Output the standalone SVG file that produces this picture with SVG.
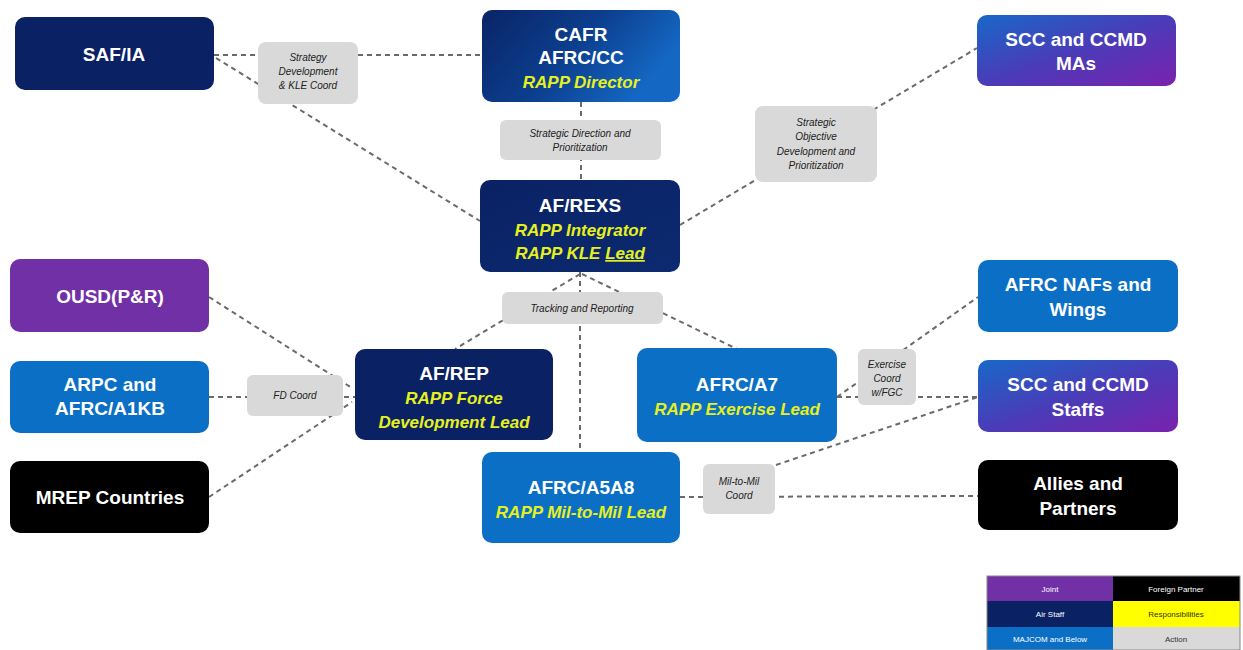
<svg xmlns="http://www.w3.org/2000/svg" width="1243" height="650" viewBox="0 0 1243 650">
<defs>
<linearGradient id="gCafr" x1="0" y1="0" x2="1" y2="0.4">
<stop offset="0" stop-color="#0a2466"/><stop offset="0.55" stop-color="#0c3f8f"/><stop offset="1" stop-color="#1468c4"/>
</linearGradient>
<linearGradient id="gScc" x1="0" y1="0" x2="1" y2="1">
<stop offset="0" stop-color="#1868c8"/><stop offset="0.5" stop-color="#4a3cb8"/><stop offset="1" stop-color="#7a22ae"/>
</linearGradient>
<linearGradient id="gRexs" x1="0" y1="0" x2="1" y2="1">
<stop offset="0" stop-color="#0a2264"/><stop offset="1" stop-color="#0c2a70"/>
</linearGradient>
</defs>
<style>
.conn{fill:none;stroke:#6a6a6a;stroke-width:2;stroke-dasharray:5 4}
.node text{font-family:"Liberation Sans",Arial,sans-serif;font-weight:bold;text-anchor:middle}
.t{fill:#ffffff;font-size:19px}
.y{fill:#e6f01e;font-size:17px;font-style:italic}
.lbl rect{fill:#d9d9d9}
.lbl text{font-family:"Liberation Sans",Arial,sans-serif;font-style:italic;font-size:10px;fill:#222;text-anchor:middle}
.navy{fill:#0a2264}
.blue{fill:#0b6fc6}
.purple{fill:#7230a6}
.black{fill:#000000}
.leg text{font-family:"Liberation Sans",Arial,sans-serif;font-size:8px;text-anchor:middle}
</style>
<rect width="1243" height="650" fill="#ffffff"/>
<g id="connectors">
<line class="conn" x1="214" y1="55" x2="482" y2="55"/>
<line class="conn" x1="216" y1="58" x2="480" y2="221"/>
<line class="conn" x1="581" y1="102" x2="581" y2="180"/>
<line class="conn" x1="680" y1="225" x2="977" y2="48"/>
<line class="conn" x1="580" y1="272" x2="580" y2="452"/>
<line class="conn" x1="580" y1="274" x2="455" y2="349"/>
<line class="conn" x1="582" y1="274" x2="737" y2="349"/>
<line class="conn" x1="209" y1="297" x2="352" y2="388"/>
<line class="conn" x1="209" y1="397" x2="355" y2="397"/>
<line class="conn" x1="209" y1="497" x2="352" y2="402"/>
<line class="conn" x1="837" y1="397" x2="978" y2="297"/>
<line class="conn" x1="837" y1="397" x2="978" y2="397"/>
<line class="conn" x1="776" y1="465" x2="978" y2="397"/>
<line class="conn" x1="680" y1="497" x2="978" y2="496"/>
</g>
<g id="lbl-strategy" class="lbl"><rect x="258" y="42" width="100" height="62" rx="8"/><text x="308" y="61">Strategy</text><text x="308" y="75">Development</text><text x="308" y="89">&amp; KLE Coord</text></g>
<g id="lbl-direction" class="lbl"><rect x="500" y="120" width="161" height="40" rx="6"/><text x="580" y="137">Strategic Direction and</text><text x="580" y="151">Prioritization</text></g>
<g id="lbl-objective" class="lbl"><rect x="755" y="106" width="122" height="76" rx="8"/><text x="816" y="126">Strategic</text><text x="816" y="140">Objective</text><text x="816" y="155">Development and</text><text x="816" y="169">Prioritization</text></g>
<g id="lbl-tracking" class="lbl"><rect x="502" y="292" width="161" height="32" rx="6"/><text x="582" y="312">Tracking and Reporting</text></g>
<g id="lbl-fd" class="lbl"><rect x="247" y="375" width="96" height="41" rx="6"/><text x="295" y="399">FD Coord</text></g>
<g id="lbl-exercise" class="lbl"><rect x="858" y="349" width="58" height="56" rx="6"/><text x="887" y="368">Exercise</text><text x="887" y="382">Coord</text><text x="887" y="396">w/FGC</text></g>
<g id="lbl-miltomil" class="lbl"><rect x="703" y="464" width="72" height="50" rx="6"/><text x="739" y="485">Mil-to-Mil</text><text x="739" y="499">Coord</text></g>

<g id="n-safia" class="node"><rect class="navy" x="15" y="17" width="199" height="73" rx="10"/><text class="t" x="114" y="61">SAF/IA</text></g>
<g id="n-cafr" class="node"><rect fill="url(#gCafr)" x="482" y="10" width="198" height="92" rx="10"/><text class="t" x="581" y="41">CAFR</text><text class="t" x="581" y="64">AFRC/CC</text><text class="y" x="581" y="88">RAPP Director</text></g>
<g id="n-sccma" class="node"><rect fill="url(#gScc)" x="977" y="15" width="199" height="71" rx="10"/><text class="t" x="1076" y="46">SCC and CCMD</text><text class="t" x="1076" y="70">MAs</text></g>
<g id="n-rexs" class="node"><rect fill="url(#gRexs)" x="480" y="180" width="200" height="92" rx="10"/><text class="t" x="580" y="212">AF/REXS</text><text class="y" x="580" y="236">RAPP Integrator</text><text class="y" x="580" y="259">RAPP KLE <tspan text-decoration="underline">Lead</tspan></text></g>
<g id="n-ousd" class="node"><rect class="purple" x="10" y="259" width="199" height="73" rx="10"/><text class="t" x="110" y="303">OUSD(P&amp;R)</text></g>
<g id="n-arpc" class="node"><rect class="blue" x="10" y="361" width="199" height="72" rx="10"/><text class="t" x="110" y="391">ARPC and</text><text class="t" x="110" y="415">AFRC/A1KB</text></g>
<g id="n-mrep" class="node"><rect class="black" x="10" y="461" width="199" height="72" rx="10"/><text class="t" x="110" y="504">MREP Countries</text></g>
<g id="n-rep" class="node"><rect class="navy" x="355" y="349" width="198" height="91" rx="10"/><text class="t" x="454" y="380">AF/REP</text><text class="y" x="454" y="404">RAPP Force</text><text class="y" x="454" y="428">Development Lead</text></g>
<g id="n-a7" class="node"><rect class="blue" x="637" y="348" width="200" height="94" rx="10"/><text class="t" x="737" y="391">AFRC/A7</text><text class="y" x="737" y="415">RAPP Exercise Lead</text></g>
<g id="n-a5a8" class="node"><rect class="blue" x="482" y="452" width="198" height="91" rx="10"/><text class="t" x="581" y="494">AFRC/A5A8</text><text class="y" x="581" y="518">RAPP Mil-to-Mil Lead</text></g>
<g id="n-nafs" class="node"><rect class="blue" x="978" y="260" width="200" height="72" rx="10"/><text class="t" x="1078" y="291">AFRC NAFs and</text><text class="t" x="1078" y="316">Wings</text></g>
<g id="n-sccstaffs" class="node"><rect fill="url(#gScc)" x="978" y="360" width="200" height="72" rx="10"/><text class="t" x="1078" y="391">SCC and CCMD</text><text class="t" x="1078" y="416">Staffs</text></g>
<g id="n-allies" class="node"><rect class="black" x="978" y="460" width="200" height="70" rx="10"/><text class="t" x="1078" y="490">Allies and</text><text class="t" x="1078" y="515">Partners</text></g>

<g id="legend" class="leg">
<rect x="987" y="576" width="126" height="25" fill="#7230a6"/><text x="1050" y="592" fill="#ffffff">Joint</text>
<rect x="1113" y="576" width="127" height="25" fill="#000000"/><text x="1176" y="592" fill="#ffffff">Foreign Partner</text>
<rect x="987" y="601" width="126" height="26" fill="#0a2264"/><text x="1050" y="617" fill="#ffffff">Air Staff</text>
<rect x="1113" y="601" width="127" height="26" fill="#ffff00"/><text x="1176" y="617" fill="#333300">Responsibilities</text>
<rect x="987" y="627" width="126" height="23" fill="#0b6fc6"/><text x="1050" y="642" fill="#ffffff">MAJCOM and Below</text>
<rect x="1113" y="627" width="127" height="23" fill="#d9d9d9"/><text x="1176" y="642" fill="#333333">Action</text>
<rect x="987" y="576" width="253" height="74" fill="none" stroke="#888" stroke-width="1"/>
</g>
</svg>
